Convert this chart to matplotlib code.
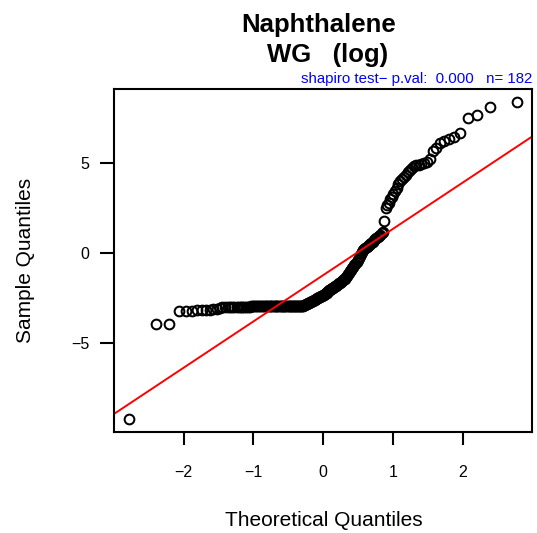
import numpy as np
import matplotlib
matplotlib.use("Agg")
import matplotlib.pyplot as plt
from statistics import NormalDist

plt.rcParams['font.family'] = ['Liberation Sans', 'DejaVu Sans']

title1 = "Naphthalene"
title2 = "WG   (log)"
subtitle = "shapiro test\u2212 p.val:  0.000   n= 182"
xlab = "Theoretical Quantiles"
ylab = "Sample Quantiles"

# sorted sample values (log scale)
low_tail = [-9.20, -3.94, -3.92,
            -3.20, -3.19, -3.18, -3.17, -3.16, -3.15, -3.14, -3.12, -3.10]
flat = [-3.02, -3.01, -3.00, -2.99, -2.99, -2.98, -2.98, -2.97,
        -2.97, -2.97, -2.96, -2.96, -2.96, -2.96, -2.96, -2.95, -2.95, -2.95,
        -2.95, -2.95, -2.95, -2.95, -2.95, -2.95, -2.95, -2.95, -2.95, -2.95,
        -2.95, -2.95, -2.95, -2.95, -2.95, -2.95, -2.95, -2.95, -2.95, -2.95,
        -2.95, -2.95, -2.95, -2.95, -2.95, -2.95, -2.95, -2.95, -2.95, -2.95,
        -2.95, -2.95, -2.95, -2.94, -2.94, -2.94, -2.94, -2.93, -2.93, -2.93]
rising = [-2.92, -2.90, -2.87, -2.84, -2.81, -2.78, -2.75, -2.72, -2.69, -2.66,
          -2.63, -2.60, -2.57, -2.54, -2.51, -2.48, -2.45, -2.42, -2.39, -2.36,
          -2.33,
          -2.30, -2.26, -2.23, -2.19, -2.15, -2.11, -2.07, -2.03, -1.99, -1.95,
          -1.92, -1.88, -1.84,
          -1.80, -1.76, -1.72, -1.68, -1.63, -1.59, -1.55, -1.50, -1.46, -1.41,
          -1.33, -1.25, -1.17, -1.09, -1.00, -0.92, -0.84, -0.76, -0.67, -0.59,
          -0.48, -0.37, -0.26, -0.15, -0.05, 0.05, 0.15,
          0.22, 0.28, 0.34, 0.40, 0.46, 0.52,
          0.58, 0.64, 0.70, 0.76, 0.82, 0.88, 0.95,
          1.02, 1.10, 1.18, 1.75]
high_tail = [2.50, 2.64, 2.80, 3.00, 3.12, 3.28, 3.46, 3.62, 3.83, 4.00,
             4.10, 4.20, 4.30, 4.47, 4.60, 4.70, 4.80, 4.86, 4.90, 4.94,
             5.00, 5.05, 5.20, 5.67, 5.82, 6.08, 6.23, 6.30, 6.40, 6.65,
             7.50, 7.65, 8.10, 8.38]

sample = np.array(low_tail + flat + rising + high_tail)
n = len(sample)

# theoretical quantiles like R's qqnorm (ppoints)
nd = NormalDist()
theo = np.array([nd.inv_cdf((i - 0.5) / n) for i in range(1, n + 1)])

# qqline through the quartiles
q1, q3 = np.quantile(sample, [0.25, 0.75])
slope = (q3 - q1) / (nd.inv_cdf(0.75) - nd.inv_cdf(0.25))
inter = q1 - slope * nd.inv_cdf(0.25)

fig = plt.figure(figsize=(5.37, 5.33), dpi=100)
ax = fig.add_axes([114 / 537, 101 / 533, 418.3 / 537, 343 / 533])

ax.plot(theo, sample, 'o', mfc='none', mec='black', ms=7.0, mew=1.45)
ax.axline((0, inter), slope=slope, color='red', lw=1.4)

xr = theo.max() - theo.min()
yr = sample.max() - sample.min()
ax.set_xlim(theo.min() - 0.04 * xr, theo.max() + 0.04 * xr)
ax.set_ylim(sample.min() - 0.04 * yr, sample.max() + 0.04 * yr)

ax.set_xticks([-2, -1, 0, 1, 2])
ax.set_yticks([-5, 0, 5])
ax.set_xticklabels(['\u22122', '\u22121', '0', '1', '2'])
ax.set_yticklabels(['\u22125', '0', '5'])
ax.tick_params(axis='x', length=9, width=1.5, pad=15, labelsize=11.5)
ax.tick_params(axis='y', length=10, width=1.5, pad=8, labelsize=11.5)
for s in ax.spines.values():
    s.set_linewidth(1.5)

fig.text(318.5 / 537, 1 - 31.7 / 533, title1, ha='center', va='baseline',
         fontsize=18.5, fontweight='bold')
fig.text(327.5 / 537, 1 - 61.7 / 533, title2, ha='center', va='baseline',
         fontsize=18.5, fontweight='bold')
fig.text(532 / 537, 1 - 83.3 / 533, subtitle, ha='right', va='baseline',
         fontsize=10.8, color='blue')
fig.text(324 / 537, 1 - 520 / 533, xlab, ha='center', va='center', fontsize=15)
fig.text(26 / 537, 1 - 260 / 533, ylab, ha='center', va='center', fontsize=15,
         rotation=90)

fig.savefig('out.png', dpi=100)
